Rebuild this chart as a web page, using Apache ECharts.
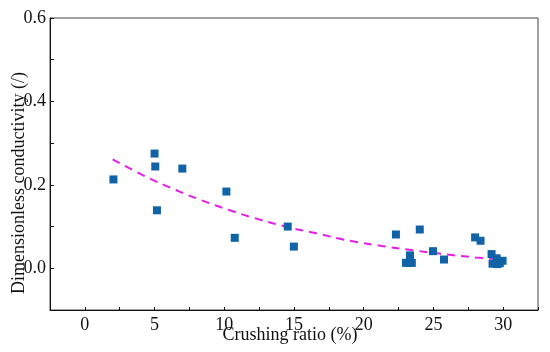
<!DOCTYPE html>
<html>
<head>
<meta charset="utf-8">
<script src="https://cdn.jsdelivr.net/npm/echarts@6/dist/echarts.min.js"></script>
<style>html,body{margin:0;padding:0;background:#fff}#c{width:550px;height:352px}</style>
</head>
<body>
<div id="c"></div>
<script>
// measured points: crushing ratio (%) vs dimensionless conductivity
var crushingRatio = [2.05, 5.0, 5.05, 6.99, 5.17, 10.15, 10.75, 14.55, 14.99, 22.31, 24.02, 24.97, 25.76, 23.32, 23.03, 23.25, 23.45, 27.99, 28.38, 29.17, 29.53, 29.96, 29.24, 29.57, 29.76];
var conductivity  = [0.213, 0.275, 0.244, 0.239, 0.139, 0.184, 0.073, 0.100, 0.052, 0.081, 0.093, 0.041, 0.021, 0.031, 0.013, 0.013, 0.013, 0.074, 0.066, 0.034, 0.024, 0.018, 0.011, 0.010, 0.012];
// fitted trend line
var fitX = [2.0, 4.3, 6.5, 8.3, 10.5, 11.8, 14.4, 16.6, 19.0, 21.4, 23.8, 26.0, 28.0, 30.0];
var fitY = [0.261, 0.221, 0.188, 0.164, 0.138, 0.124, 0.100, 0.084, 0.066, 0.053, 0.042, 0.033, 0.026, 0.021];
var xLabels = [0, 5, 10, 15, 20, 25, 30];
var yLabels = [0.0, 0.2, 0.4, 0.6];

var pts = crushingRatio.map(function (x, i) { return [x, conductivity[i]]; });
var fit = fitX.map(function (x, i) { return [x, fitY[i]]; });
var font = 'Liberation Serif';

var chart = echarts.init(document.getElementById('c'), null, {renderer: 'canvas'});
chart.setOption({
  animation: false,
  backgroundColor: '#fff',
  grid: {left: 50, right: 12, top: 18, bottom: 42, show: true, borderColor: '#444', borderWidth: 1},
  xAxis: {
    type: 'value', min: -2.5, max: 32.5, interval: 2.5,
    axisLine: {show: true, onZero: false, lineStyle: {color: '#111', width: 1}},
    axisTick: {show: true, inside: true, length: 3, lineStyle: {color: '#111'}},
    splitLine: {show: false},
    axisLabel: {
      margin: 6, color: '#111', fontFamily: font, fontSize: 18,
      formatter: function (v) {
        var r = Math.round(v * 10) / 10;
        return xLabels.indexOf(r) >= 0 ? String(r) : '';
      }
    }
  },
  yAxis: {
    type: 'value', min: -0.1, max: 0.6, interval: 0.1,
    axisLine: {show: true, onZero: false, lineStyle: {color: '#111', width: 1}},
    axisTick: {show: true, inside: true, length: 4, lineStyle: {color: '#111'}},
    splitLine: {show: false},
    axisLabel: {
      margin: 4, color: '#111', fontFamily: font, fontSize: 18,
      formatter: function (v) {
        var r = Math.round(v * 10) / 10;
        for (var i = 0; i < yLabels.length; i++) {
          if (Math.abs(yLabels[i] - r) < 1e-6) return r.toFixed(1);
        }
        return '';
      }
    }
  },
  graphic: [
    {type: 'text', x: 290, y: 326, style: {text: 'Crushing ratio (%)', font: '18px "Liberation Serif"', fill: '#111', textAlign: 'center', textVerticalAlign: 'top'}},
    {type: 'text', x: 19, y: 183, rotation: Math.PI / 2, style: {text: 'Dimensionless conductivity (/)', font: '18px "Liberation Serif"', fill: '#111', textAlign: 'center', textVerticalAlign: 'middle'}}
  ],
  series: [
    {
      type: 'line', data: fit, smooth: true, showSymbol: false, symbol: 'none',
      lineStyle: {color: '#e51ee5', width: 2, type: [8, 6]}, z: 2
    },
    {
      type: 'scatter', data: pts, symbol: 'rect', symbolSize: 8,
      itemStyle: {color: '#1063a6', opacity: 1}, z: 3
    }
  ]
});
</script>
</body>
</html>
